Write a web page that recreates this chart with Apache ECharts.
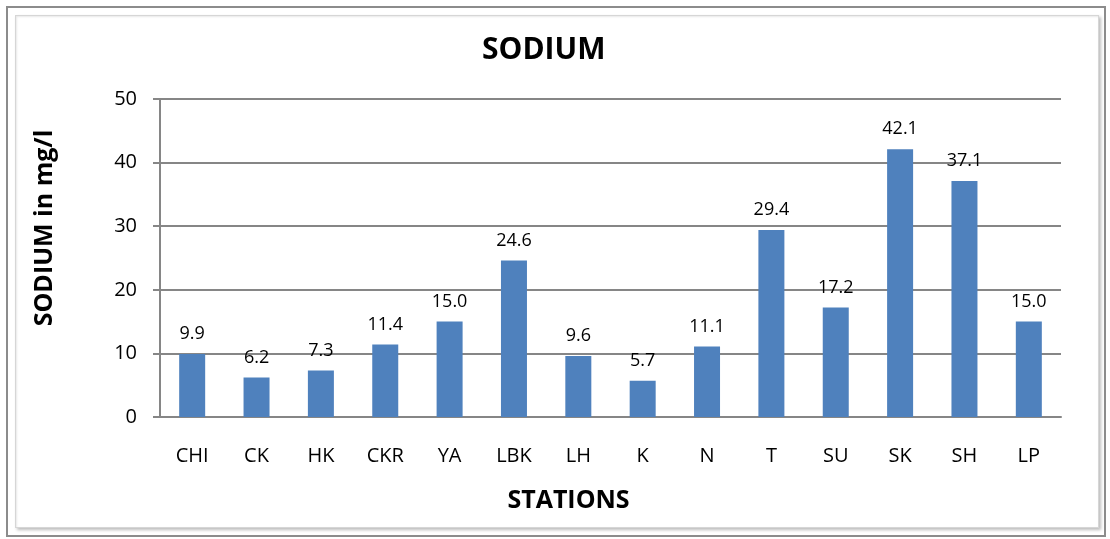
<!DOCTYPE html>
<html>
<head>
<meta charset="utf-8">
<script src="https://cdn.jsdelivr.net/npm/echarts@6/dist/echarts.min.js"></script>
<style>
  html, body { margin: 0; padding: 0; background: #fff; }
  #frameOuter {
    position: absolute; left: 6px; top: 6px; width: 1096px; height: 527px;
    border: 2px solid #8c8c8c; box-sizing: content-box;
  }
  #frameInner {
    position: absolute; left: 15px; top: 15px; width: 1082px; height: 511px;
    border: 1px solid #d6d6d6;
    box-shadow: 2px 2px 3px #bdbdbd, inset 1px 1px 2px #e8e8e8;
  }
  #main { position: absolute; left: 0; top: 0; width: 1110px; height: 539px; }
</style>
</head>
<body>
<div id="frameOuter"></div>
<div id="frameInner"></div>
<div id="main"></div>
<script>
// 站点
var stations = ["CHI", "CK", "HK", "CKR", "YA", "LBK", "LH", "K", "N", "T", "SU", "SK", "SH", "LP"];
// 钠含量 mg/l
var sodium = [9.9, 6.2, 7.3, 11.4, 15.0, 24.6, 9.6, 5.7, 11.1, 29.4, 17.2, 42.1, 37.1, 15.0];
var yTicks = [0, 10, 20, 30, 40, 50];

var fontFamily = "'Open Sans', 'Liberation Sans', sans-serif";
var chart = echarts.init(document.getElementById("main"));
chart.setOption({
  backgroundColor: "transparent",
  animation: false,
  textStyle: { fontFamily: fontFamily },
  title: {
    text: "SODIUM",
    left: 477,
    top: 30,
    textStyle: { fontSize: 30, fontWeight: "bold", color: "#000", fontFamily: fontFamily }
  },
  grid: { left: 160, top: 99, right: 49, bottom: 122 },
  xAxis: {
    type: "category",
    data: stations,
    name: "STATIONS",
    nameLocation: "middle",
    nameGap: 71,
    nameTextStyle: { fontSize: 25, fontWeight: "bold", color: "#000", padding: [0, 84, 0, 0] },
    axisLine: { lineStyle: { color: "#868686", width: 2 } },
    axisTick: { show: false },
    axisLabel: { fontSize: 20, color: "#000", margin: 29 }
  },
  yAxis: {
    type: "value",
    min: yTicks[0],
    max: yTicks[yTicks.length - 1],
    interval: 10,
    name: "SODIUM in mg/l",
    nameLocation: "middle",
    nameGap: 103,
    nameTextStyle: { fontSize: 25, fontWeight: "bold", color: "#000", padding: [0, 0, 0, 60] },
    axisLine: { show: true, lineStyle: { color: "#868686", width: 2 } },
    axisTick: { show: true, length: 7, lineStyle: { color: "#868686", width: 2 } },
    axisLabel: { fontSize: 20, color: "#000", margin: 23 },
    splitLine: { lineStyle: { color: "#868686", width: 2 } }
  },
  series: [{
    type: "bar",
    data: sodium,
    barWidth: 26,
    itemStyle: { color: "#4f81bd" },
    label: {
      show: true,
      position: "top",
      distance: 11,
      fontSize: 18,
      color: "#000",
      formatter: function (p) { return p.value.toFixed(1); }
    }
  }]
});
</script>
</body>
</html>
